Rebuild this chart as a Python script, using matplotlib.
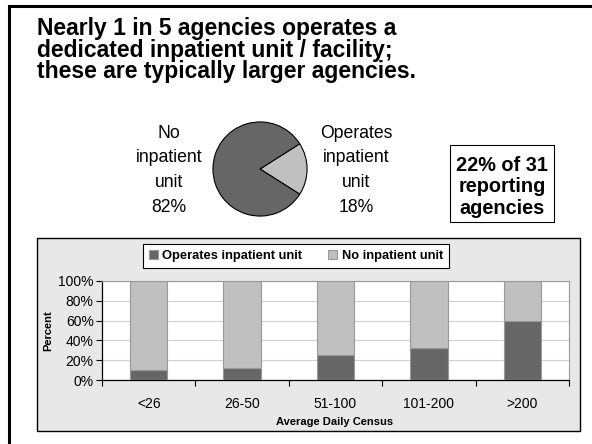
import numpy as np
import matplotlib
matplotlib.use("Agg")
import matplotlib.pyplot as plt
from matplotlib.patches import Rectangle

plt.rcParams['font.family'] = ['Liberation Sans', 'DejaVu Sans']

# --- data ---
title_lines = ["Nearly 1 in 5 agencies operates a",
               "dedicated inpatient unit / facility;",
               "these are typically larger agencies."]
pie_labels = ["Operates\ninpatient\nunit", "No\ninpatient\nunit"]
pie_values = [18, 82]
note_lines = ["22% of 31", "reporting", "agencies"]

categories = ["<26", "26-50", "51-100", "101-200", ">200"]
operates = [10, 12, 25, 32, 60]
no_unit = [100 - v for v in operates]
series_names = ["Operates inpatient unit", "No inpatient unit"]
yticks = [0, 20, 40, 60, 80, 100]

DARK = '#666666'
LIGHT = '#c0c0c0'
W, H = 592, 444

fig = plt.figure(figsize=(W / 100, H / 100), dpi=100)


def fx(x):
    return x / W


def fy(y):
    return 1 - y / H


# slide frame (only left/top visible)
fig.patches.append(Rectangle((fx(8.5), fy(470)), fx(700), fy(5.5) - fy(470),
                             transform=fig.transFigure, fill=False,
                             edgecolor='black', linewidth=2.2))

# title
for i, line in enumerate(title_lines):
    fig.text(fx(37), fy(35 + i * 21.7), line, fontsize=16.5, fontweight='bold',
             va='baseline', ha='left')

# pie
axp = fig.add_axes([fx(212), fy(217), fx(96), fy(121) - fy(217)])
axp.pie(pie_values, colors=[LIGHT, DARK], startangle=-pie_values[0] * 1.8,
        wedgeprops=dict(edgecolor='black', linewidth=0.8))
axp.set_xlim(-1.02, 1.02)
axp.set_ylim(-1.02, 1.02)

label_x = {0: 356, 1: 169}
for k, lab in enumerate(pie_labels):
    lines = lab.split("\n") + ["%d%%" % pie_values[k]]
    for i, line in enumerate(lines):
        fig.text(fx(label_x[k]), fy(138 + i * 24.5), line, fontsize=12.7,
                 ha='center', va='baseline')

# note box
fig.patches.append(Rectangle((fx(450), fy(222)), fx(104), fy(145) - fy(222),
                             transform=fig.transFigure, facecolor='white',
                             edgecolor='black', linewidth=0.8))
for i, line in enumerate(note_lines):
    fig.text(fx(502), fy(171 + i * 21.3), line, fontsize=14.3, fontweight='bold',
             ha='center', va='baseline')

# chart panel (drawn behind the bar axes)
fig.patches.append(Rectangle((fx(37), fy(431)), fx(543), fy(238) - fy(431),
                             transform=fig.transFigure, facecolor='#e8e8e8',
                             edgecolor='black', linewidth=1.0, zorder=-1))

ax = fig.add_axes([fx(102), fy(380), fx(467), fy(281) - fy(380)])
ax.set_facecolor('white')
x = np.arange(len(categories))
b1 = ax.bar(x, operates, width=0.4, color=DARK, edgecolor='#999999',
            linewidth=0.8, label=series_names[0], zorder=3)
b2 = ax.bar(x, no_unit, bottom=operates, width=0.4, color=LIGHT,
            edgecolor='#999999', linewidth=0.8, label=series_names[1], zorder=3)
ax.set_xlim(-0.5, len(categories) - 0.5)
ax.set_ylim(0, 100)
ax.set_yticks(yticks)
ax.set_yticklabels(["%d%%" % v for v in yticks], fontsize=10)
ax.set_xticks(x)
ax.set_xticklabels(categories, fontsize=10)
ax.set_xticks(np.arange(len(categories) + 1) - 0.5, minor=True)
ax.tick_params(axis='x', which='major', length=0, pad=12)
ax.tick_params(axis='x', which='minor', length=4, width=0.8, direction='out')
ax.tick_params(axis='y', length=4, width=0.8, direction='out', pad=2)
ax.grid(axis='y', color='#d0d0d0', linewidth=0.8, zorder=0)
ax.spines['top'].set_color('#999999')
ax.spines['right'].set_color('#999999')
ax.spines['left'].set_linewidth(0.9)
ax.spines['bottom'].set_linewidth(0.9)

fig.text(fx(335), fy(422), "Average Daily Census", fontsize=8, fontweight='bold',
         ha='center', va='center')
fig.text(fx(48), fy(331), "Percent", fontsize=8, fontweight='bold',
         ha='center', va='center', rotation=90)

leg = ax.legend(handles=[b1, b2], loc='center', ncol=2,
                bbox_to_anchor=(fx(296), fy(256)), bbox_transform=fig.transFigure,
                frameon=True, fancybox=False, edgecolor='black', framealpha=1,
                prop=dict(size=9.3, weight='bold'), handlelength=0.7,
                handleheight=0.7, handletextpad=0.35, columnspacing=2.0,
                borderpad=0.45)
leg.get_frame().set_linewidth(0.8)

fig.savefig("out.png", dpi=100)
